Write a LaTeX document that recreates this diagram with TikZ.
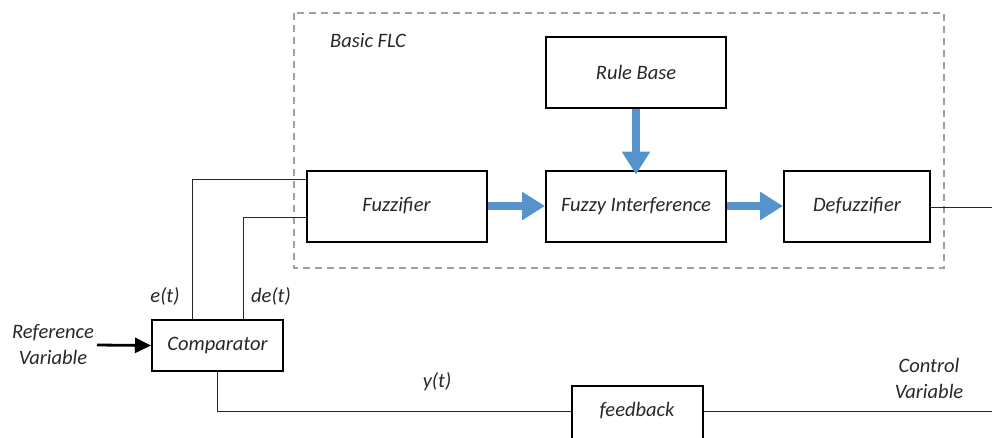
\documentclass[tikz,border=0pt]{standalone}
\usepackage{fontspec}
\setmainfont{Carlito}
\usetikzlibrary{arrows.meta}
\definecolor{flowblue}{RGB}{86,146,204}
\definecolor{dashgray}{RGB}{160,160,160}
\definecolor{txt}{RGB}{40,40,40}
\begin{document}
\begin{tikzpicture}[x=1pt,y=-1pt,
  font=\fontsize{20.5}{24}\selectfont\itshape,
  blockbox/.style={draw=black,line width=2pt,fill=white,minimum width=#1,minimum height=71pt,inner sep=0pt,text=txt},
  blockbox/.default=180pt,
  wire/.style={draw=black!85,line width=0.9pt},
  bluearrow/.style={draw=flowblue,line width=8pt,-{Triangle[length=23pt,width=27pt]}},
  lbl/.style={text=txt,inner sep=0pt,align=center}]
\useasboundingbox (0,0) rectangle (992,437);
\clip (0,0) rectangle (992,437);
% dashed region
\draw[dashgray,line width=1.4pt,dash pattern=on 7pt off 5pt] (294,13) rectangle (944,268);
\node[lbl] (flc) at (368,41) {Basic FLC};
% blocks
\node[blockbox] (rule) at (636,72) {Rule Base};
\node[blockbox] (fuzz) at (396.5,206) {Fuzzifier};
\node[blockbox] (fi) at (636,206) {Fuzzy Interference};
\node[blockbox=146pt] (defz) at (857,206) {Defuzzifier};
\node[draw=black,line width=2pt,fill=white,minimum width=131pt,minimum height=51pt,inner sep=0pt,text=txt] (comp) at (217.5,345.5) {Comparator};
\node[draw=black,line width=2pt,fill=white,minimum width=131pt,minimum height=60pt,inner sep=0pt] (fb) at (637.5,416) {};
\node[lbl] (fbt) at (637,411) {feedback};
% blue arrows
\draw[bluearrow] (fuzz.east) -- (fi.west);
\draw[bluearrow] (fi.east) -- (defz.west);
\draw[bluearrow] (rule.south) -- ([yshift=-5pt]fi.north);
% output
\coordinate (outend) at (992,207);
\draw[wire] (defz.east |- outend) -- (outend);
% comparator inputs
\coordinate (ecorner) at (192,179);
\coordinate (decorner) at (243,217);
\draw[wire] (comp.north -| ecorner) -- (ecorner) -- (fuzz.west |- ecorner);
\draw[wire] (comp.north -| decorner) -- (decorner) -- (fuzz.west |- decorner);
\node[lbl] (et) at (165,296) {e(t)};
\node[lbl] (det) at (271,296) {de(t)};
% reference
\node[lbl,font=\fontsize{20.5}{26}\selectfont\itshape] (ref) at (53,345) {Reference\\Variable};
\draw[black,line width=2.8pt,-{Triangle[length=16pt,width=15pt]}] (97,345) -- (comp.west);
% feedback loop
\coordinate (fbcorner) at (217.5,411);
\draw[wire] (comp.south) -- (fbcorner) -- (fb.west |- fbcorner);
\coordinate (fbend) at (992,411);
\draw[wire] (fb.east |- fbend) -- (fbend);
\node[lbl] (yt) at (437,382) {y(t)};
\node[lbl,font=\fontsize{20.5}{26}\selectfont\itshape] (cv) at (929,378) {Control\\Variable};
\end{tikzpicture}
\end{document}
